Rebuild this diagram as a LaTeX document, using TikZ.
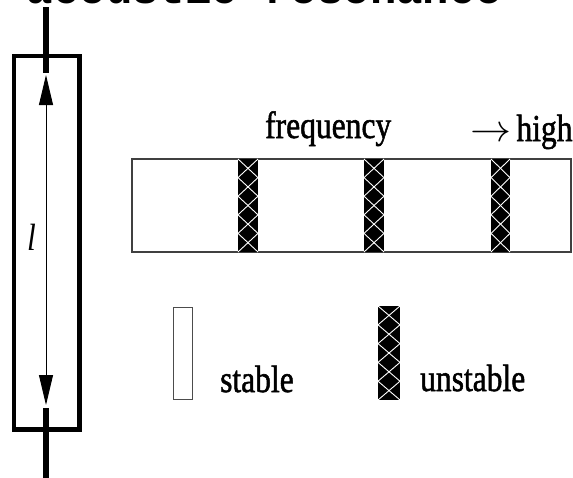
\documentclass[tikz,border=0pt]{standalone}
\usepackage{fix-cm}
\usepackage{fontspec}
\setmainfont{Liberation Serif}
\newfontfamily\labelfont{Liberation Serif}[FakeBold=1.5]
\newfontfamily\monofont{Liberation Mono}
\usepackage{tikz}
\usetikzlibrary{arrows.meta}

% black band crossed by white X's: x0, y0, x1, y1
\newcommand{\crossband}[4]{%
	\fill[black] (#1,#2) rectangle (#3,#4);
	\pgfmathsetmacro{\cellh}{(#4-#2)/5}
	\foreach \k in {0,...,4} {
		\draw[white, line width=0.9pt] (#1,{#2+\k*\cellh}) -- (#3,{#2+(\k+1)*\cellh});
		\draw[white, line width=0.9pt] (#3,{#2+\k*\cellh}) -- (#1,{#2+(\k+1)*\cellh});
	}
}

\begin{document}
\begin{tikzpicture}[
	  x=1pt, y=-1pt,
	  txt/.style = {font=\labelfont\fontsize{38}{40}\selectfont, xscale=0.83, inner sep=0, anchor=base west},
	  wire/.style = {line width=6pt},
	  tube/.style = {line width=4.3pt},
	  >={Triangle[length=30pt, width=14pt]}
	]

	\useasboundingbox (0,0) rectangle (573,477);

	\node[font=\monofont\bfseries\fontsize{44}{44}\selectfont, inner sep=0, anchor=base] (title) at (264.5,3) {acoustic resonance};

	% the tube with its length l
	\draw[tube] (14,56) rectangle (79.5,429.5);
	\coordinate (wire top) at (46,7);
	\coordinate (tube top) at (46,73);
	\coordinate (tube bottom) at (46,408);
	\coordinate (wire bottom) at (46,480);
	\draw[wire] (wire top) -- (tube top);
	\draw[wire] (tube bottom) -- (wire bottom);
	\coordinate (l top) at (46,75);
	\coordinate (l bottom) at (46,405);
	\draw[line width=0.9pt, <->] (l top) -- (l bottom);
	\node[txt, font=\fontsize{38}{40}\selectfont\itshape] (len) at (27,250) {l};

	% frequency bar
	\node[txt] (freq) at (265,138) {frequency};
	\node[txt] (high) at (470,141) {\scalebox{1.3}[1]{$\rightarrow$}\,high};
	\draw[black!75, line width=1.2pt] (132,159) rectangle (571,252);
	\crossband{238}{159}{258}{252}
	\crossband{364}{159}{384}{252}
	\crossband{491}{159}{510}{252}

	% legend
	\draw[black!70, line width=1pt] (173,307) rectangle (192,399);
	\node[txt] (stable) at (220,392) {stable};
	\crossband{378}{306}{400}{400}
	\node[txt] (unstable) at (420,391) {unstable};

\end{tikzpicture}
\end{document}
